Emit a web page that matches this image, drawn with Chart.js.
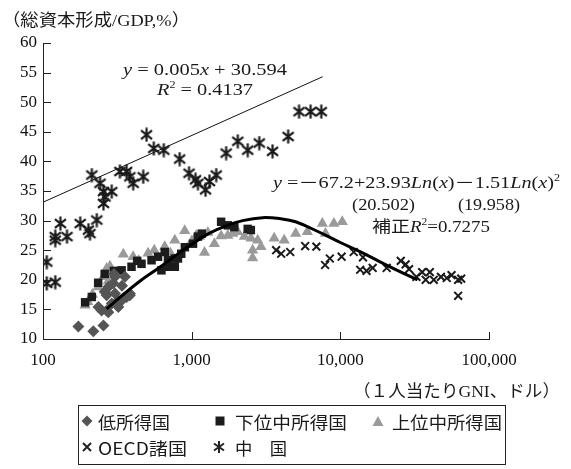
<!DOCTYPE html>
<html><head><meta charset="utf-8">
<script src="https://cdn.jsdelivr.net/npm/chart.js@4.4.1/dist/chart.umd.min.js"></script>
<style>
html,body{margin:0;padding:0;background:#fff;}
#wrap{position:relative;width:571px;height:469px;overflow:hidden;font-family:"Liberation Serif","Noto Sans CJK JP",serif;color:#1a1a1a;}
canvas{position:absolute;left:0;top:0;}
.t{position:absolute;white-space:nowrap;line-height:1;transform-origin:0 50%;}
.t i{font-style:italic;}
.t sup{font-size:0.6em;vertical-align:0.75em;line-height:0;}
.lg{position:absolute;white-space:nowrap;line-height:1;font-family:"Noto Sans CJK JP","Liberation Serif",sans-serif;font-size:17px;color:#1a1a1a;transform-origin:0 50%;}
#box{position:absolute;border:1px solid #222;}
svg{position:absolute;}
</style></head><body>
<div id="wrap">
<canvas id="c" width="571" height="469"></canvas>
</div>
<script>
// ---------- data (x = 1人当たりGNI(ドル), y = 総資本形成/GDP %) ----------
const seriesNames = ["低所得国","下位中所得国","上位中所得国","OECD諸国","中　国"];
const xTicks = [100, 1000, 10000, 100000];
const yMin = 10, yMax = 60, yStep = 5;

const lowIncome = [[173,12.1],[218,11.3],[255,12.3],[236,15.4],[248,14.8],[268,14.8],[275,14.5],[268,17.4],[275,18.8],[297,19.4],[305,17.7],[305,20.5],[321,15.4],[321,16.5],[338,16.5],[356,20.5],[365,17.1],[384,17.7],[384,17.4],[300,21.0],[290,16.0],[260,18.0],[340,19.0]];
const lowerMiddle = [[192,16.2],[213,17.1],[235,19.5],[260,21.0],[300,21.5],[338,21.6],[394,22.2],[430,23.2],[460,22.7],[537,23.3],[594,23.9],[626,21.6],[659,24.7],[693,23.3],[693,22.2],[770,22.2],[770,23.6],[809,23.6],[851,24.4],[900,25.5],[1021,26.1],[1102,27.3],[1170,27.8],[1578,29.8],[1750,29.2],[1936,28.9],[2382,28.6],[2500,28.4]];
const upperMiddle = [[192,15.7],[200,16.3],[215,17.5],[235,18.8],[255,20.5],[268,21.9],[275,19.8],[282,22.3],[313,21.2],[347,24.3],[404,23.9],[440,23.2],[509,24.5],[560,25.0],[659,25.6],[720,24.5],[770,26.7],[898,28.3],[1000,26.5],[1074,27.5],[1130,27.3],[1220,24.6],[1285,28.0],[1422,26.1],[1578,27.4],[1750,27.5],[1890,27.8],[2040,28.1],[2260,27.3],[2505,27.0],[2570,25.0],[2570,23.7],[2780,26.7],[2925,25.6],[3590,27.0],[4190,26.7],[5010,27.8],[6000,28.1],[7570,29.5],[7940,27.8],[9050,29.5],[10300,29.8]];
const oecd = [[3700,25.0],[4000,24.4],[4600,24.7],[5800,25.7],[6900,25.6],[7900,22.5],[8500,23.6],[10200,23.9],[12300,24.7],[14200,23.8],[13600,21.7],[15000,21.5],[16500,22.0],[20500,22.0],[25500,23.2],[27500,22.6],[29000,21.8],[32500,20.5],[35500,21.3],[37500,20.0],[40000,21.3],[42500,20.0],[47500,20.5],[52000,20.3],[56000,20.8],[62000,20.0],[65000,20.2],[62000,17.3]];
const china = [[106,23.0],[106,19.4],[121,19.6],[121,26.7],[131,29.5],[121,27.3],[145,27.3],[178,29.5],[202,28.4],[207,27.8],[230,30.1],[213,37.7],[242,36.3],[255,34.9],[261,34.0],[255,32.9],[290,34.9],[329,38.3],[365,38.3],[384,37.4],[404,36.3],[472,37.4],[497,44.5],[556,42.2],[649,41.9],[830,40.4],[960,38.0],[1062,36.9],[1101,36.3],[1239,35.2],[1318,36.6],[1462,37.7],[1706,41.4],[2042,43.4],[2382,41.9],[2850,43.1],[3500,41.7],[4455,44.2],[5276,48.4],[6310,48.4],[7442,48.4]];
const chinaTrend = [[100,33.1],[7600,54.3]];
const fitCurve = [[268,15.1],[350,17.6],[450,19.8],[600,22.0],[800,24.3],[1000,26.0],[1300,27.8],[1700,29.1],[2200,30.0],[3000,30.5],[4000,30.3],[5000,29.8],[7000,28.2],[10000,26.3],[14000,24.6],[20000,22.6],[26000,21.2],[33000,20.0]];

const pts = a => a.map(([x,y]) => ({x, y}));

function makeAsterisk(){
  const c = document.createElement('canvas'); c.width = 15; c.height = 15;
  const g = c.getContext('2d'); g.strokeStyle = '#1a1a1a'; g.lineWidth = 2.2;
  const cx = 7.5, cy = 7.5, r = 7;
  g.beginPath(); g.moveTo(cx, cy - r); g.lineTo(cx, cy + r);
  [38, -38].forEach(a => { const rad = a * Math.PI / 180;
    g.moveTo(cx - r * Math.cos(rad), cy - r * Math.sin(rad));
    g.lineTo(cx + r * Math.cos(rad), cy + r * Math.sin(rad)); });
  g.stroke(); return c;
}

const innerTicks = {
  id: 'innerTicks',
  beforeDatasetsDraw(chart) {
    const {ctx, chartArea: a, scales: {x, y}} = chart;
    ctx.save(); ctx.strokeStyle = '#222'; ctx.lineWidth = 1; ctx.beginPath();
    y.ticks.forEach(t => { const py = Math.round(y.getPixelForValue(t.value)) + 0.5; ctx.moveTo(a.left, py); ctx.lineTo(a.left + 8, py); });
    x.ticks.forEach(t => { const px = Math.round(x.getPixelForValue(t.value)) + 0.5; ctx.moveTo(px, a.bottom); ctx.lineTo(px, a.bottom - 7); });
    ctx.stroke(); ctx.restore();
  }
};

const tickFont = {family: '"Liberation Serif", serif', size: 17};

new Chart(document.getElementById('c'), {
  type: 'scatter',
  data: { datasets: [
    {type:'line', label:'fit', data: pts(fitCurve), borderColor:'#000', borderWidth:3, pointRadius:0, tension:0.4, fill:false, order:0},
    {type:'line', label:'trend', data: pts(chinaTrend), borderColor:'#111', borderWidth:1, pointRadius:0, fill:false, order:1},
    {label: seriesNames[4], data: pts(china), pointStyle: makeAsterisk(), order:2},
    {label: seriesNames[3], data: pts(oecd), pointStyle:'crossRot', pointRadius:5.5, borderColor:'#1a1a1a', borderWidth:2, order:3},
    {label: seriesNames[0], data: pts(lowIncome), pointStyle:'rectRot', pointRadius:6, backgroundColor:'#555', borderWidth:0, order:4},
    {label: seriesNames[1], data: pts(lowerMiddle), pointStyle:'rect', pointRadius:6, backgroundColor:'#1c1c1c', borderWidth:0, order:5},
    {label: seriesNames[2], data: pts(upperMiddle), pointStyle:'triangle', pointRadius:6.5, backgroundColor:'#9a9a9a', borderWidth:0, order:6}
  ]},
  options: {
    responsive:false, animation:false, devicePixelRatio:1,
    layout: {padding: {left:0, top:43, right:82, bottom:100}},
    plugins: {legend:{display:false}, tooltip:{enabled:false}},
    scales: {
      x: {type:'logarithmic', min:100, max:100000,
          afterBuildTicks: s => { s.ticks = xTicks.map(v => ({value:v})); },
          afterFit: s => { s.height = 30; },
          ticks: {autoSkip:false, maxRotation:0, padding:11, color:'#111', font:tickFont,
                  callback: v => Number(v).toLocaleString('en-US')},
          grid: {display:true, drawOnChartArea:false, drawTicks:false},
          border: {display:true, color:'#222', width:1}},
      y: {min:yMin, max:yMax,
          afterFit: s => { s.width = 43; },
          ticks: {stepSize:yStep, padding:6, color:'#111', font:tickFont},
          grid: {display:true, drawOnChartArea:false, drawTicks:false},
          border: {display:true, color:'#222', width:1}}
    }
  },
  plugins: [innerTicks]
});

// ---------- text overlays ----------
const wrap = document.getElementById('wrap');
function addText(html, left, cy, size, width, cls) {
  const d = document.createElement('div'); d.className = cls || 't';
  d.innerHTML = html; d.style.fontSize = size + 'px';
  d.style.left = left + 'px'; d.style.top = (cy - size / 2) + 'px';
  wrap.appendChild(d);
  if (width) { const w = d.getBoundingClientRect().width; if (w > 0) d.style.transform = 'scaleX(' + (width / w) + ')'; }
  return d;
}
addText('（総資本形成/GDP,%）', 2, 20, 17, 188);
addText('<i>y</i> = 0.005<i>x</i> + 30.594', 123, 70, 16, 164);
addText('<i>R</i><sup>2</sup> = 0.4137', 157, 90, 16, 96);
addText('<i>y</i> =－67.2+23.93<i>Ln</i>(<i>x</i>)－1.51<i>Ln</i>(<i>x</i>)<sup>2</sup>', 273, 183, 16, 287);
addText('(20.502)', 352, 205, 16, 63);
addText('(19.958)', 458, 205, 16, 62);
addText('補正<i>R</i><sup>2</sup>=0.7275', 372, 227, 16, 118);
addText('（１人当たりGNI、ドル）', 353, 391, 17, 207);

// ---------- legend ----------
const box = document.createElement('div'); box.id = 'box';
Object.assign(box.style, {left:'78px', top:'405px', width:'426px', height:'58px'});
wrap.appendChild(box);
function icon(svg, cx, cy) {
  const s = document.createElementNS('http://www.w3.org/2000/svg', 'svg');
  s.setAttribute('width', 14); s.setAttribute('height', 14);
  s.style.left = (cx - 7) + 'px'; s.style.top = (cy - 7) + 'px';
  s.innerHTML = svg; wrap.appendChild(s);
}
const r1 = 421, r2 = 447;
icon('<polygon points="7,1.5 12.5,7 7,12.5 1.5,7" fill="#555"/>', 87, r1);
icon('<rect x="2.5" y="2.5" width="9" height="9" fill="#1c1c1c"/>', 220, r1);
icon('<polygon points="7,2 12.5,12 1.5,12" fill="#9a9a9a"/>', 378, r1);
icon('<path d="M3,3 L11,11 M11,3 L3,11" stroke="#222" stroke-width="2"/>', 87, r2);
icon('<path d="M7,1 L7,13 M2,3.5 L12,10.5 M12,3.5 L2,10.5" stroke="#222" stroke-width="2"/>', 219, r2);
addText(seriesNames[0], 98, r1, 17, 72, 'lg');
addText(seriesNames[1], 235, r1, 17, 112, 'lg');
addText(seriesNames[2], 392, r1, 17, 110, 'lg');
addText(seriesNames[3], 98, r2, 17, 89, 'lg');
addText(seriesNames[4], 235, r2, 17, 52, 'lg');
</script>
</body></html>
